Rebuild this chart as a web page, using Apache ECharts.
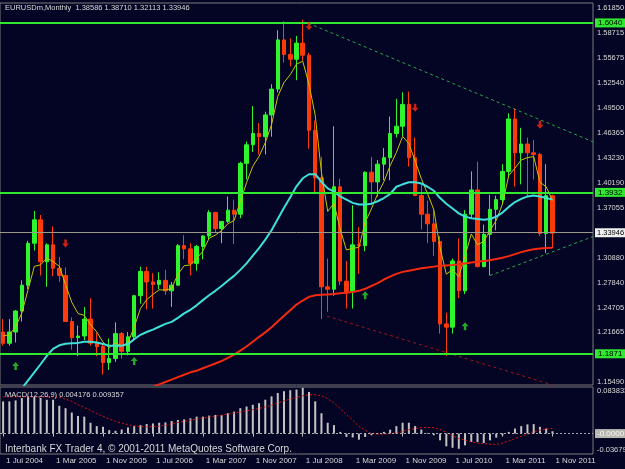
<!DOCTYPE html>
<html><head><meta charset="utf-8">
<script src="https://cdn.jsdelivr.net/npm/echarts@6/dist/echarts.min.js"></script>
<style>html,body{margin:0;padding:0;background:#040424;}#c{width:625px;height:469px;}</style>
</head><body><div id="c"></div>
<script>
// ---- categories (monthly slots, Jul 2004 .. May 2012 incl. right shift space) ----
const monthNames = ['Jan','Feb','Mar','Apr','May','Jun','Jul','Aug','Sep','Oct','Nov','Dec'];
const categories = [];
for (let i = 0; i < 95; i++) { const k = 6 + i; categories.push('1 ' + monthNames[k % 12] + ' ' + (2004 + Math.floor(k / 12))); }

// ---- EURUSD monthly OHLC (Jul 2004 .. Nov 2011) ----
const opens = [1.2170,1.2030,1.2170,1.2430,1.2750,1.3270,1.3560,1.3040,1.3250,1.2960,1.2870,1.2300,1.2100,1.2120,1.2330,1.2030,1.1990,1.1790,1.1840,1.2150,1.1930,1.2110,1.2620,1.2920,1.2790,1.2760,1.2810,1.2680,1.2750,1.3240,1.3200,1.3020,1.3230,1.3360,1.3650,1.3450,1.3540,1.3680,1.3630,1.4260,1.4490,1.4630,1.4590,1.4860,1.5180,1.5790,1.5610,1.5550,1.5750,1.5600,1.4670,1.4080,1.2730,1.2700,1.3970,1.2800,1.2670,1.3250,1.3240,1.4150,1.4030,1.4250,1.4330,1.4630,1.4720,1.4990,1.4330,1.3860,1.3630,1.3510,1.3290,1.2270,1.2230,1.3050,1.2680,1.3630,1.3930,1.2980,1.3380,1.3690,1.3810,1.4160,1.4810,1.4390,1.4500,1.4390,1.4370,1.3390,1.38586];
const highs = [1.2330,1.2330,1.2440,1.2810,1.3300,1.3670,1.3620,1.3270,1.3480,1.3100,1.2970,1.2350,1.2250,1.2480,1.2590,1.2160,1.2030,1.2090,1.2290,1.2170,1.2170,1.2630,1.2980,1.2980,1.2900,1.2910,1.2940,1.2790,1.3260,1.3370,1.3270,1.3250,1.3370,1.3680,1.3660,1.3530,1.3850,1.3810,1.4280,1.4530,1.4970,1.4760,1.4900,1.5240,1.5910,1.6020,1.5810,1.5840,1.6040,1.5630,1.4790,1.4340,1.3080,1.4720,1.4070,1.3050,1.3740,1.3470,1.4160,1.4340,1.4300,1.4450,1.4840,1.5060,1.5140,1.5150,1.4580,1.3990,1.3800,1.3690,1.3360,1.2410,1.3080,1.3330,1.3680,1.4160,1.4280,1.3500,1.3870,1.3860,1.4250,1.4880,1.4940,1.4700,1.4580,1.4550,1.4390,1.4250,1.38710];
const lows = [1.2000,1.2000,1.2040,1.2300,1.2700,1.3180,1.2870,1.2730,1.2860,1.2790,1.2300,1.1950,1.1870,1.2070,1.2000,1.1870,1.1640,1.1700,1.1800,1.1840,1.1880,1.2060,1.2520,1.2450,1.2460,1.2700,1.2630,1.2480,1.2740,1.3070,1.2870,1.2930,1.3070,1.3320,1.3410,1.3270,1.3520,1.3260,1.3580,1.4060,1.4400,1.4370,1.4370,1.4590,1.5140,1.5510,1.5460,1.5290,1.5530,1.4440,1.3880,1.2330,1.2420,1.2620,1.2750,1.2460,1.2460,1.2890,1.3170,1.3740,1.3850,1.4050,1.4050,1.4580,1.4600,1.4220,1.3860,1.3440,1.3270,1.3110,1.2150,1.1876,1.2150,1.2590,1.2640,1.3580,1.2970,1.2970,1.2870,1.3430,1.3760,1.4080,1.3970,1.4000,1.3840,1.4060,1.3360,1.3150,1.32113];
const closes = [1.2030,1.2170,1.2430,1.2750,1.3270,1.3560,1.3040,1.3250,1.2960,1.2870,1.2300,1.2100,1.2120,1.2330,1.2030,1.1990,1.1790,1.1840,1.2150,1.1930,1.2110,1.2620,1.2920,1.2790,1.2760,1.2810,1.2680,1.2750,1.3240,1.3200,1.3020,1.3230,1.3360,1.3650,1.3450,1.3540,1.3680,1.3630,1.4260,1.4490,1.4630,1.4590,1.4860,1.5180,1.5790,1.5610,1.5550,1.5750,1.5600,1.4670,1.4080,1.2730,1.2700,1.3970,1.2800,1.2670,1.3250,1.3240,1.4150,1.4030,1.4250,1.4330,1.4630,1.4720,1.4990,1.4330,1.3860,1.3630,1.3510,1.3290,1.2270,1.2230,1.3050,1.2680,1.3630,1.3930,1.2980,1.3380,1.3690,1.3810,1.4160,1.4810,1.4390,1.4500,1.4390,1.4370,1.3390,1.3860,1.33946];

// ---- moving averages ----
const maFast = [1.2120,1.2137,1.2234,1.2406,1.2694,1.2983,1.3002,1.3085,1.3043,1.2985,1.2757,1.2538,1.2399,1.2376,1.2261,1.2171,1.2044,1.1976,1.2034,1.1999,1.2036,1.2231,1.2461,1.2571,1.2634,1.2693,1.2689,1.2709,1.2886,1.2991,1.3001,1.3077,1.3171,1.3331,1.3371,1.3427,1.3511,1.3551,1.3787,1.4021,1.4224,1.4346,1.4517,1.4738,1.5089,1.5263,1.5359,1.5489,1.5526,1.5241,1.4854,1.4146,1.3664,1.3766,1.3444,1.3186,1.3207,1.3218,1.3529,1.3696,1.3881,1.4031,1.4231,1.4394,1.4593,1.4505,1.4290,1.4070,1.3883,1.3685,1.3213,1.2886,1.2941,1.2854,1.3112,1.3385,1.3250,1.3293,1.3426,1.3554,1.3756,1.4107,1.4201,1.4301,1.4331,1.4344,1.4026,1.3970,1.3800];
const maMid = [1.117,1.127,1.137,1.147,1.157,1.167,1.177,1.1875,1.196,1.2005,1.2025,1.203,1.2035,1.205,1.205,1.204,1.202,1.200,1.200,1.200,1.202,1.208,1.2135,1.217,1.220,1.2235,1.227,1.2295,1.2345,1.240,1.2445,1.250,1.2565,1.2625,1.268,1.274,1.2805,1.2865,1.294,1.302,1.3115,1.321,1.3315,1.343,1.357,1.371,1.384,1.3975,1.4075,1.4125,1.4125,1.403,1.395,1.391,1.385,1.381,1.377,1.375,1.375,1.376,1.379,1.383,1.388,1.397,1.400,1.4025,1.4025,1.401,1.397,1.392,1.383,1.376,1.370,1.364,1.360,1.358,1.357,1.356,1.357,1.360,1.365,1.372,1.378,1.382,1.385,1.386,1.385,1.383,1.381];
const maSlow = [null,null,null,null,null,null,null,null,null,null,null,null,null,null,null,null,null,null,null,null,null,null,1.143,1.146,1.149,1.152,1.155,1.158,1.161,1.164,1.167,1.169,1.172,1.175,1.178,1.181,1.185,1.189,1.194,1.199,1.205,1.211,1.2165,1.223,1.230,1.237,1.244,1.251,1.256,1.2605,1.2625,1.263,1.2635,1.264,1.265,1.2655,1.2665,1.268,1.2705,1.274,1.2775,1.282,1.2855,1.289,1.2915,1.293,1.2945,1.296,1.297,1.298,1.299,1.2995,1.300,1.301,1.302,1.303,1.304,1.305,1.306,1.3075,1.309,1.311,1.3135,1.316,1.318,1.3195,1.3205,1.321,1.3215];

// ---- MACD(12,26,9) ----
const macdMain = [0.0579,0.0579,0.0597,0.0640,0.0670,0.0658,0.0640,0.0609,0.0609,0.0500,0.0457,0.0378,0.0317,0.0305,0.0195,0.0134,0.0122,0.0061,0.0049,0.0073,0.0110,0.0134,0.0152,0.0171,0.0183,0.0195,0.0201,0.0225,0.0244,0.0256,0.0274,0.0305,0.0305,0.0323,0.0335,0.0335,0.0366,0.0396,0.0457,0.0487,0.0518,0.0548,0.0609,0.0670,0.0731,0.0762,0.0780,0.0792,0.0823,0.0750,0.0580,0.0366,0.0195,0.0152,0.0030,-0.0060,-0.0070,-0.0110,-0.0060,-0.0030,0.0010,0.0030,0.0070,0.0134,0.0195,0.0195,0.0134,0.0073,0.0012,-0.0030,-0.0122,-0.0230,-0.0256,-0.0274,-0.0213,-0.0152,-0.0152,-0.0170,-0.0122,-0.0073,-0.0030,0.0030,0.0090,0.0134,0.0165,0.0170,0.0122,0.0090,0.004176];
const macdSignal = [0.066,0.066,0.066,0.066,0.066,0.066,0.066,0.066,0.066,0.065,0.062,0.058,0.052,0.047,0.042,0.036,0.031,0.026,0.022,0.019,0.016,0.014,0.0125,0.012,0.0125,0.0134,0.015,0.0175,0.020,0.022,0.024,0.026,0.028,0.0297,0.0314,0.033,0.035,0.0367,0.0388,0.041,0.043,0.0452,0.048,0.051,0.055,0.059,0.062,0.065,0.068,0.070,0.070,0.068,0.063,0.055,0.045,0.034,0.024,0.013,0.006,0.000,-0.001,-0.001,0.000,0.001,0.004,0.007,0.009,0.011,0.011,0.0105,0.0075,0.002,-0.004,-0.009,-0.012,-0.015,-0.017,-0.018,-0.019,-0.0195,-0.017,-0.0135,-0.009,-0.005,-0.001,0.003,0.006,0.008,0.009357];

// ---- axis ticks / levels / drawings ----
const priceTicks = [1.61850,1.58715,1.55675,1.52540,1.49500,1.46365,1.43230,1.40190,1.37055,1.30880,1.27840,1.24705,1.21665,1.15490];
const priceMin = 1.1513, priceMax = 1.6247;
const macdMin = -0.03679, macdMax = 0.083833;
const hLevels = [1.6040, 1.3932, 1.1871];
const bidPrice = 1.33946;
const trendRes = [[48.9, 1.5996], [94.5, 1.4527]];
const trendSup = [[78, 1.2870], [94.5, 1.3353]];
const trendLow = [[51.9, 1.2366], [94.5, 1.1361]];
const upArrows = [[2, 1.1748], [21, 1.1810], [58, 1.2625], [74, 1.2242]];
const downArrows = [[10, 1.3268], [49, 1.5960], [66, 1.4949], [86, 1.4739]];

const FONT = 'Liberation Sans';
const pad = arr => categories.map((_, i) => (i < arr.length && arr[i] !== null) ? arr[i] : '-');
const candleData = categories.map((_, i) => i < closes.length ? [opens[i], closes[i], lows[i], highs[i]] : '-');
const last = closes.length - 1;
const UP = 'path://M4,0 L8,4 L5.4,4 L5.4,8 L2.6,8 L2.6,4 L0,4 Z';
const DOWN = 'path://M2.6,0 L5.4,0 L5.4,4 L8,4 L4,8 L0,4 L2.6,4 Z';

const chart = echarts.init(document.getElementById('c'), null, {renderer: 'canvas', width: 625, height: 469});
chart.setOption({
  animation: false,
  backgroundColor: '#040424',
  title: [
    {text: 'EURUSDm,Monthly  ' + [opens[last], highs[last], lows[last], closes[last]].map(v => v.toFixed(5)).join(' '),
     left: 5, top: 4, padding: 0, textStyle: {color: '#d8d8d8', fontSize: 7.5, fontWeight: 'normal', fontFamily: FONT}},
    {text: 'MACD(12,26,9) ' + macdMain[last].toFixed(6) + ' ' + macdSignal[last].toFixed(6),
     left: 5, top: 391, padding: 0, textStyle: {color: '#d8d8d8', fontSize: 7.5, fontWeight: 'normal', fontFamily: FONT}},
    {text: 'Interbank FX Trader 4, \u00a9 2001-2011 MetaQuotes Software Corp.',
     left: 5, top: 444, padding: 0, textStyle: {color: '#d8d8d8', fontSize: 10, fontWeight: 'normal', fontFamily: FONT}}
  ],
  grid: [
    {left: 0, top: 3, width: 593, height: 382, show: true, borderColor: '#7a7a7a', borderWidth: 1, backgroundColor: 'transparent', containLabel: false, outerBoundsMode: 'none'},
    {left: 0, top: 387, width: 593, height: 67, show: true, borderColor: '#7a7a7a', borderWidth: 1, backgroundColor: 'transparent', containLabel: false, outerBoundsMode: 'none'}
  ],
  xAxis: [
    {type: 'category', gridIndex: 0, data: categories, boundaryGap: true, show: false},
    {type: 'category', gridIndex: 1, data: categories, boundaryGap: true,
     axisLine: {show: false},
     axisTick: {show: true, alignWithLabel: true, interval: (i) => i % 8 === 0, length: 3, lineStyle: {color: '#c0c0c0'}},
     axisLabel: {interval: (i) => i % 8 === 0, align: 'left', padding: [0, 0, 0, 3], margin: 3, color: '#d8d8d8', fontSize: 8, fontFamily: FONT},
     splitLine: {show: false}},
    {type: 'value', gridIndex: 0, min: -0.5, max: 94.5, show: false}
  ],
  yAxis: [
    {type: 'value', gridIndex: 0, position: 'right', min: priceMin, max: priceMax,
     splitLine: {show: false}, axisLine: {show: false},
     axisTick: {show: false},
     axisLabel: {customValues: priceTicks, formatter: v => v.toFixed(5), color: '#d8d8d8', fontSize: 7.5, fontFamily: FONT, margin: 4}},
    {type: 'value', gridIndex: 1, position: 'right', min: macdMin, max: macdMax,
     splitLine: {show: false}, axisLine: {show: false},
     axisTick: {show: false},
     axisLabel: {customValues: [macdMin, macdMax], formatter: v => v > 0 ? macdMax.toFixed(6) : macdMin.toFixed(5),
       verticalAlignMaxLabel: 'top', verticalAlignMinLabel: 'bottom',
       color: '#d8d8d8', fontSize: 7.5, fontFamily: FONT, margin: 4}}
  ],
  series: [
    {type: 'candlestick', name: 'EURUSD', xAxisIndex: 0, yAxisIndex: 0, data: candleData, barWidth: 4,
     itemStyle: {color: '#2ef52e', color0: '#ff3a0a', borderColor: '#2ef52e', borderColor0: '#ff3a0a', borderWidth: 1},
     markLine: {silent: true, symbol: ['none', 'none'], animation: false,
       data: hLevels.map(v => ({yAxis: v, lineStyle: {color: '#30e830', width: 2, type: 'solid'},
           label: {show: true, position: 'end', distance: 2, formatter: v.toFixed(4), color: '#000', backgroundColor: '#30e830', padding: [1, 4, 0, 3], fontSize: 8, fontFamily: FONT}}))
         .concat([{yAxis: bidPrice, lineStyle: {color: '#9a9a8a', width: 1, type: 'solid'},
           label: {show: true, position: 'end', distance: 2, formatter: bidPrice.toFixed(5), color: '#000', backgroundColor: '#f0f0f0', padding: [1, 3, 0, 2], fontSize: 7.5, fontFamily: FONT}}])}},
    {type: 'line', name: 'MA fast', xAxisIndex: 0, yAxisIndex: 0, data: pad(maFast), symbol: 'none', z: 4,
     lineStyle: {color: '#c8c400', width: 1}},
    {type: 'line', name: 'MA mid', xAxisIndex: 0, yAxisIndex: 0, data: pad(maMid), symbol: 'none', z: 4,
     lineStyle: {color: '#3ee0d8', width: 2}},
    {type: 'line', name: 'MA slow', xAxisIndex: 0, yAxisIndex: 0, data: pad(maSlow), symbol: 'none', z: 4,
     lineStyle: {color: '#f42a10', width: 2}},
    {type: 'line', name: 'res', xAxisIndex: 2, yAxisIndex: 0, data: trendRes, symbol: 'none', z: 3,
     lineStyle: {color: '#2aa848', width: 1, type: [3, 3]}},
    {type: 'line', name: 'sup', xAxisIndex: 2, yAxisIndex: 0, data: trendSup, symbol: 'none', z: 3,
     lineStyle: {color: '#2aa848', width: 1, type: [3, 3]}},
    {type: 'line', name: 'low', xAxisIndex: 2, yAxisIndex: 0, data: trendLow, symbol: 'none', z: 3,
     lineStyle: {color: '#a01818', width: 1, type: [3, 3]}},
    {type: 'scatter', name: 'up', xAxisIndex: 2, yAxisIndex: 0, data: upArrows, symbol: UP, symbolSize: [7, 8], z: 5,
     itemStyle: {color: '#30d030'}},
    {type: 'scatter', name: 'down', xAxisIndex: 2, yAxisIndex: 0, data: downArrows, symbol: DOWN, symbolSize: [7, 8], z: 5,
     itemStyle: {color: '#ff2a10'}},
    {type: 'bar', name: 'MACD', xAxisIndex: 1, yAxisIndex: 1, data: pad(macdMain), barWidth: 2,
     itemStyle: {color: '#c4c4c4'},
     markLine: {silent: true, symbol: ['none', 'none'], animation: false,
       data: [{yAxis: 0, lineStyle: {color: '#a8a8a8', width: 1, type: [2, 2]},
         label: {show: true, position: 'end', distance: 2, formatter: '-0.0000', color: '#f8f8f8', backgroundColor: '#b8b8b0', padding: [1, 2, 0, 2], fontSize: 8, fontFamily: FONT}}]}},
    {type: 'line', name: 'Signal', xAxisIndex: 1, yAxisIndex: 1, data: pad(macdSignal), symbol: 'none', z: 4,
     lineStyle: {color: '#e01010', width: 1, type: [2, 2]}}
  ]
});
</script>
</body></html>
